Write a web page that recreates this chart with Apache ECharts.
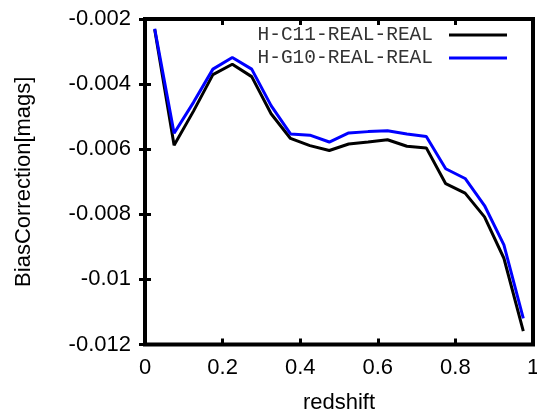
<!DOCTYPE html>
<html>
<head>
<meta charset="utf-8">
<script src="https://cdn.jsdelivr.net/npm/echarts@6/dist/echarts.min.js"></script>
<style>html,body{margin:0;padding:0;background:#fff}#c{width:537px;height:410px}</style>
</head>
<body>
<div id="c"></div>
<script>
const redshift = [0.025,0.075,0.125,0.175,0.225,0.275,0.325,0.375,0.425,0.475,0.525,0.575,0.625,0.675,0.725,0.775,0.825,0.875,0.925,0.975];
const c11 = [-0.00232,-0.00588,-0.00483,-0.00371,-0.00339,-0.00377,-0.00491,-0.00567,-0.00589,-0.00604,-0.00584,-0.00578,-0.00571,-0.00591,-0.00596,-0.00706,-0.00735,-0.00808,-0.00935,-0.01159];
const g10 = [-0.00230,-0.00551,-0.00456,-0.00354,-0.00318,-0.00354,-0.00466,-0.00553,-0.00557,-0.00578,-0.00550,-0.00546,-0.00543,-0.00553,-0.00561,-0.00660,-0.00690,-0.00773,-0.00894,-0.01120];
const seriesNames = ['H-C11-REAL-REAL','H-G10-REAL-REAL'];
const xTickLabels = ['0','0.2','0.4','0.6','0.8','1'];
const yTickLabels = ['-0.012','-0.01','-0.008','-0.006','-0.004','-0.002'];

const chart = echarts.init(document.getElementById('c'));
const font = 'Liberation Sans, Arial, sans-serif';
const fs = 22;
const xLab = v => { const i = Math.round(v / 0.2); return xTickLabels[i] !== undefined ? xTickLabels[i] : ''; };
const yLab = v => { const i = Math.round((v + 0.012) / 0.002); return yTickLabels[i] !== undefined ? yTickLabels[i] : ''; };
const tick = {show: true, inside: true, length: 6, lineStyle: {color: '#000', width: 3}};
chart.setOption({
  animation: false,
  backgroundColor: '#fff',
  grid: {left: 145, right: 4, top: 19, bottom: 65.5, show: true, borderColor: '#000', borderWidth: 4, backgroundColor: 'transparent',
         containLabel: false, outerBoundsMode: 'none'},
  legend: {
    orient: 'vertical', right: 25, top: 20, align: 'right',
    icon: 'rect', itemWidth: 58, itemHeight: 3, itemGap: 3,
    textStyle: {fontFamily: 'Liberation Mono, Courier New, monospace', fontSize: 19.5, color: '#333', padding: [0, 11, 0, 0]},
    data: seriesNames
  },
  xAxis: [
    {type: 'value', min: 0, max: 1, interval: 0.2, name: 'redshift', nameLocation: 'middle', nameGap: 47,
     nameTextStyle: {fontFamily: font, fontSize: fs, color: '#000'},
     axisLine: {show: false}, axisTick: tick, splitLine: {show: false},
     axisLabel: {formatter: xLab, fontFamily: font, fontSize: fs, color: '#000', margin: 12}},
    {type: 'value', position: 'top', min: 0, max: 1, interval: 0.2,
     axisLine: {show: false}, axisTick: tick, splitLine: {show: false}, axisLabel: {show: false}}
  ],
  yAxis: [
    {type: 'value', min: -0.012, max: -0.002, interval: 0.002, name: 'BiasCorrection[mags]', nameLocation: 'middle', nameGap: 110,
     nameTextStyle: {fontFamily: font, fontSize: fs, color: '#000'},
     axisLine: {show: false}, axisTick: tick, splitLine: {show: false},
     axisLabel: {formatter: yLab, fontFamily: font, fontSize: fs, color: '#000', margin: 14}},
    {type: 'value', position: 'right', min: -0.012, max: -0.002, interval: 0.002,
     axisLine: {show: false}, axisTick: tick, splitLine: {show: false}, axisLabel: {show: false}}
  ],
  series: [
    {name: seriesNames[0], type: 'line', symbol: 'none', data: redshift.map((x, i) => [x, c11[i]]),
     lineStyle: {color: '#000', width: 3}, itemStyle: {color: '#000'}, z: 3},
    {name: seriesNames[1], type: 'line', symbol: 'none', data: redshift.map((x, i) => [x, g10[i]]),
     lineStyle: {color: '#0000ff', width: 3}, itemStyle: {color: '#0000ff'}, z: 4}
  ]
});
</script>
</body>
</html>
